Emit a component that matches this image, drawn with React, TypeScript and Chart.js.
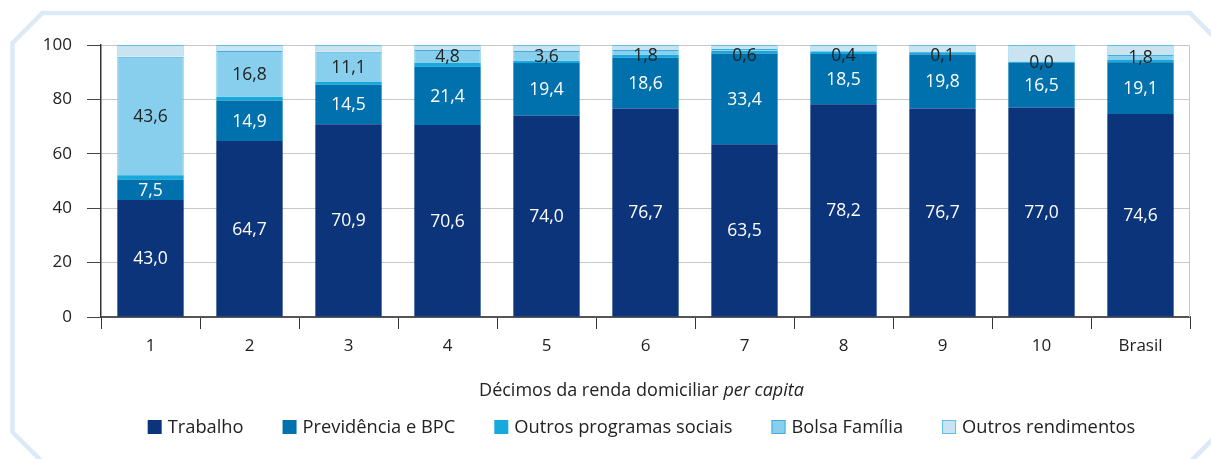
import React, { useEffect, useRef } from 'react';
import { Chart, registerables } from 'chart.js';

Chart.register(...registerables);

const categories = ['1', '2', '3', '4', '5', '6', '7', '8', '9', '10', 'Brasil'];
const trabalho = [43.0, 64.7, 70.9, 70.6, 74.0, 76.7, 63.5, 78.2, 76.7, 77.0, 74.6];
const previdencia = [7.5, 14.9, 14.5, 21.4, 19.4, 18.6, 33.4, 18.5, 19.8, 16.5, 19.1];
const outrosProgramas = [1.6, 1.4, 1.0, 1.4, 0.8, 1.1, 1.0, 0.9, 0.8, 0.3, 0.8];
const bolsaFamilia = [43.6, 16.8, 11.1, 4.8, 3.6, 1.8, 0.6, 0.4, 0.1, 0.0, 1.8];
const outrosRendimentos = [4.3, 2.2, 2.5, 1.8, 2.2, 1.8, 1.5, 2.0, 2.6, 6.2, 3.7];
const yTicks = [0, 20, 40, 60, 80, 100];

const axisTitleMain = 'Décimos da renda domiciliar ';
const axisTitleItalic = 'per capita';

const FONT = '"Open Sans", sans-serif';
const fmt = (v: number) => v.toFixed(1).replace('.', ',');

const framePlugin = {
  id: 'frame',
  beforeDraw(chart: any) {
    const { ctx, width, height } = chart;
    ctx.save();
    ctx.fillStyle = '#ffffff';
    ctx.fillRect(0, 0, width, height);
    const L = 12.5, T = 13, R = 1220, B = 462, c = 30;
    ctx.strokeStyle = '#dce9f6';
    ctx.lineWidth = 4.5;
    ctx.beginPath();
    ctx.moveTo(L, T + c);
    ctx.lineTo(L + c, T);
    ctx.lineTo(R - c, T);
    ctx.lineTo(R, T + c);
    ctx.lineTo(R, B - c);
    ctx.lineTo(R - c, B);
    ctx.lineTo(L + c, B);
    ctx.lineTo(L, B - c);
    ctx.closePath();
    ctx.stroke();
    ctx.restore();
  },
  beforeDatasetsDraw(chart: any) {
    const { ctx, chartArea } = chart;
    ctx.save();
    ctx.strokeStyle = '#c8c8c8';
    ctx.lineWidth = 1;
    ctx.beginPath();
    ctx.moveTo(chartArea.right - 0.5, chartArea.top);
    ctx.lineTo(chartArea.right - 0.5, chartArea.bottom);
    ctx.stroke();
    ctx.restore();
  },
};

const labelPlugin = {
  id: 'segLabels',
  afterDatasetsDraw(chart: any) {
    const { ctx, chartArea } = chart;
    ctx.save();
    ctx.font = `17.5px ${FONT}`;
    ctx.textAlign = 'center';
    ctx.textBaseline = 'middle';
    chart.data.datasets.forEach((ds: any, di: number) => {
      if (!ds.labelColor) return;
      const meta = chart.getDatasetMeta(di);
      meta.data.forEach((el: any, i: number) => {
        const { x, y, base } = el.getProps(['x', 'y', 'base'], true);
        let cy = (y + base) / 2;
        if (ds.clampTop) cy = Math.max(cy, chartArea.top + 10);
        ctx.fillStyle = ds.labelColor;
        ctx.fillText(fmt(ds.data[i]), x, cy + 1);
      });
    });
    ctx.restore();
  },
};

const textPlugin = {
  id: 'titleLegend',
  afterDraw(chart: any) {
    const { ctx, chartArea } = chart;
    const cx = (chartArea.left + chartArea.right) / 2 - 4;
    ctx.save();
    ctx.textBaseline = 'middle';
    ctx.fillStyle = '#222';
    // axis title
    ctx.font = `18px ${FONT}`;
    const w1 = ctx.measureText(axisTitleMain).width;
    ctx.font = `italic 18px ${FONT}`;
    const w2 = ctx.measureText(axisTitleItalic).width;
    const x0 = cx - (w1 + w2) / 2;
    const ty = 391;
    ctx.textAlign = 'left';
    ctx.font = `18px ${FONT}`;
    ctx.fillText(axisTitleMain, x0, ty);
    ctx.font = `italic 18px ${FONT}`;
    ctx.fillText(axisTitleItalic, x0 + w1, ty);
    // legend
    ctx.font = `18.3px ${FONT}`;
    const box = 14, gap = 6, spacing = 39;
    const items = chart.data.datasets.map((ds: any) => ({
      text: ds.label,
      fill: ds.backgroundColor,
      stroke: ds.borderWidth ? ds.borderColor : null,
      w: box + gap + ctx.measureText(ds.label).width,
    }));
    const total = items.reduce((s: number, it: any) => s + it.w, 0) + spacing * (items.length - 1);
    let lx = cx - total / 2;
    const ly = 427;
    items.forEach((it: any) => {
      ctx.fillStyle = it.fill;
      ctx.fillRect(lx, ly - box / 2, box, box);
      if (it.stroke) {
        ctx.strokeStyle = it.stroke;
        ctx.lineWidth = 1;
        ctx.strokeRect(lx + 0.5, ly - box / 2 + 0.5, box - 1, box - 1);
      }
      ctx.fillStyle = '#222';
      ctx.fillText(it.text, lx + box + gap, ly + 0.5);
      lx += it.w + spacing;
    });
    ctx.restore();
  },
};

export default function App() {
  const canvasRef = useRef<HTMLCanvasElement | null>(null);

  useEffect(() => {
    if (!canvasRef.current) return;
    const common = { barPercentage: 0.67, categoryPercentage: 1.0 };
    const chart = new Chart(canvasRef.current, {
      type: 'bar',
      data: {
        labels: categories,
        datasets: [
          { label: 'Trabalho', data: trabalho, backgroundColor: '#0b347a', borderWidth: 0, labelColor: '#ffffff', ...common } as any,
          { label: 'Previdência e BPC', data: previdencia, backgroundColor: '#0071ad', borderWidth: 0, labelColor: '#ffffff', ...common } as any,
          { label: 'Outros programas sociais', data: outrosProgramas, backgroundColor: '#15a9dd', borderWidth: 0, ...common } as any,
          { label: 'Bolsa Família', data: bolsaFamilia, backgroundColor: '#88cfed', borderColor: '#3eaedf', borderWidth: 1, labelColor: '#222222', clampTop: true, ...common } as any,
          { label: 'Outros rendimentos', data: outrosRendimentos, backgroundColor: '#c9e3f0', borderColor: '#5cc0e6', borderWidth: 1, ...common } as any,
        ],
      },
      options: {
        animation: false,
        responsive: true,
        maintainAspectRatio: false,
        layout: { padding: { top: 45, right: 21, left: 0, bottom: 102 } },
        plugins: {
          legend: { display: false },
          tooltip: { enabled: false },
        },
        scales: {
          x: {
            stacked: true,
            afterFit: (scale: any) => { scale.height = 40; },
            grid: { drawOnChartArea: false, offset: true, tickLength: 12, color: '#333', lineWidth: 1 },
            border: { color: '#555', width: 2 },
            ticks: { color: '#222', font: { family: FONT, size: 17 }, padding: 7 },
          },
          y: {
            stacked: true,
            min: 0,
            max: 100,
            afterFit: (scale: any) => { scale.width = 101; },
            afterBuildTicks: (scale: any) => { scale.ticks = yTicks.map((v) => ({ value: v })); },
            grid: { color: '#c8c8c8', tickColor: '#444', tickLength: 14, lineWidth: 1 },
            border: { color: '#333', width: 1.5 },
            ticks: { color: '#222', font: { family: FONT, size: 17 }, padding: 15 },
          },
        },
      },
      plugins: [framePlugin, labelPlugin, textPlugin],
    });
    return () => chart.destroy();
  }, []);

  return (
    <div style={{ position: 'absolute', left: 0, top: 0, width: 1211, height: 459 }}>
      <canvas ref={canvasRef} />
    </div>
  );
}
